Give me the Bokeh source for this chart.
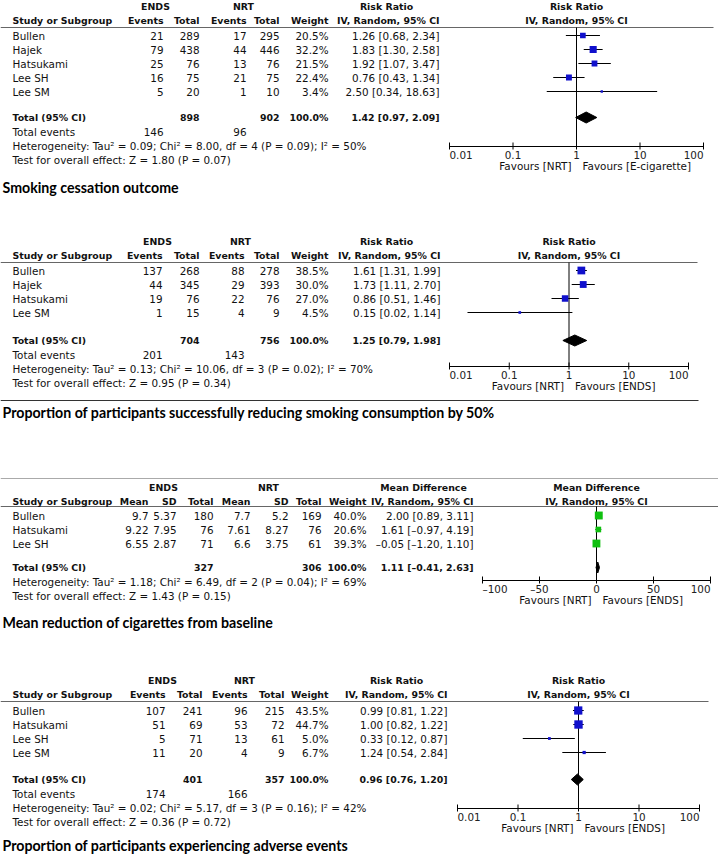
import numpy as np
from collections import defaultdict
from bokeh.plotting import figure
from bokeh.models import Range1d, LogScale, LinearScale, ColumnDataSource
from bokeh.core.properties import value
from bokeh.embed import file_html
from bokeh.resources import INLINE

# ---------------- data ----------------
# Panel 1 : smoking cessation outcome (risk ratio)
p1_studies = ["Bullen", "Hajek", "Hatsukami", "Lee SH", "Lee SM"]
p1_ends_events = [21, 79, 25, 16, 5]
p1_ends_total = [289, 438, 76, 75, 20]
p1_nrt_events = [17, 44, 13, 21, 1]
p1_nrt_total = [295, 446, 76, 75, 10]
p1_weight = [20.5, 32.2, 21.5, 22.4, 3.4]
p1_rr = [1.26, 1.83, 1.92, 0.76, 2.50]
p1_lo = [0.68, 1.30, 1.07, 0.43, 0.34]
p1_hi = [2.34, 2.58, 3.47, 1.34, 18.63]
p1_total_n = [898, 902]
p1_total_events = [146, 96]
p1_pooled = [1.42, 0.97, 2.09]
p1_het = "Heterogeneity: Tau\u00b2 = 0.09; Chi\u00b2 = 8.00, df = 4 (P = 0.09); I\u00b2 = 50%"
p1_test = "Test for overall effect: Z = 1.80 (P = 0.07)"
p1_title = "Smoking cessation outcome"
p1_fav = ["Favours [NRT]", "Favours [E-cigarette]"]

# Panel 2 : reduction of consumption by 50% (risk ratio)
p2_studies = ["Bullen", "Hajek", "Hatsukami", "Lee SM"]
p2_ends_events = [137, 44, 19, 1]
p2_ends_total = [268, 345, 76, 15]
p2_nrt_events = [88, 29, 22, 4]
p2_nrt_total = [278, 393, 76, 9]
p2_weight = [38.5, 30.0, 27.0, 4.5]
p2_rr = [1.61, 1.73, 0.86, 0.15]
p2_lo = [1.31, 1.11, 0.51, 0.02]
p2_hi = [1.99, 2.70, 1.46, 1.14]
p2_total_n = [704, 756]
p2_total_events = [201, 143]
p2_pooled = [1.25, 0.79, 1.98]
p2_het = "Heterogeneity: Tau\u00b2 = 0.13; Chi\u00b2 = 10.06, df = 3 (P = 0.02); I\u00b2 = 70%"
p2_test = "Test for overall effect: Z = 0.95 (P = 0.34)"
p2_title = "Proportion of participants successfully reducing smoking consumption by 50%"
p2_fav = ["Favours [NRT]", "Favours [ENDS]"]

# Panel 3 : mean reduction of cigarettes (mean difference)
p3_studies = ["Bullen", "Hatsukami", "Lee SH"]
p3_ends_mean = ["9.7", "9.22", "6.55"]
p3_ends_sd = ["5.37", "7.95", "2.87"]
p3_ends_total = [180, 76, 71]
p3_nrt_mean = ["7.7", "7.61", "6.6"]
p3_nrt_sd = ["5.2", "8.27", "3.75"]
p3_nrt_total = [169, 76, 61]
p3_weight = [40.0, 20.6, 39.3]
p3_md = [2.00, 1.61, -0.05]
p3_lo = [0.89, -0.97, -1.20]
p3_hi = [3.11, 4.19, 1.10]
p3_total_n = [327, 306]
p3_pooled = [1.11, -0.41, 2.63]
p3_het = "Heterogeneity: Tau\u00b2 = 1.18; Chi\u00b2 = 6.49, df = 2 (P = 0.04); I\u00b2 = 69%"
p3_test = "Test for overall effect: Z = 1.43 (P = 0.15)"
p3_title = "Mean reduction of cigarettes from baseline"
p3_fav = ["Favours [NRT]", "Favours [ENDS]"]

# Panel 4 : adverse events (risk ratio)
p4_studies = ["Bullen", "Hatsukami", "Lee SH", "Lee SM"]
p4_ends_events = [107, 51, 5, 11]
p4_ends_total = [241, 69, 71, 20]
p4_nrt_events = [96, 53, 13, 4]
p4_nrt_total = [215, 72, 61, 9]
p4_weight = [43.5, 44.7, 5.0, 6.7]
p4_rr = [0.99, 1.00, 0.33, 1.24]
p4_lo = [0.81, 0.82, 0.12, 0.54]
p4_hi = [1.22, 1.22, 0.87, 2.84]
p4_total_n = [401, 357]
p4_total_events = [174, 166]
p4_pooled = [0.96, 0.76, 1.20]
p4_het = "Heterogeneity: Tau\u00b2 = 0.02; Chi\u00b2 = 5.17, df = 3 (P = 0.16); I\u00b2 = 42%"
p4_test = "Test for overall effect: Z = 0.36 (P = 0.72)"
p4_title = "Proportion of participants experiencing adverse events"
p4_fav = ["Favours [NRT]", "Favours [ENDS]"]

rr_ticks = [0.01, 0.1, 1, 10, 100]
rr_tick_labels = ["0.01", "0.1", "1", "10", "100"]
md_ticks = [-100, -50, 0, 50, 100]
md_tick_labels = ["\u2013100", "\u201350", "0", "50", "100"]

# ---------------- styling ----------------
FONT = "DejaVu Sans"
TFONT = "Lato"
FS = "10.4px"
FSB = "9.4px"
TS = "14.2px"
TXT = "#111111"
BLUE = "#1010cc"
GREEN = "#10c010"

W, H = 718, 855
X0, X1 = 0.0, 718.0
p = figure(width=W, height=H, x_range=Range1d(X0, X1), y_range=Range1d(855, 0),
           output_backend="svg", toolbar_location=None, x_axis_type=None, y_axis_type=None,
           min_border=0, outline_line_color=None, background_fill_color="white")

extra_ranges, extra_scales = {}, {}

def add_range(name, log, v0, v1, a, b):
    if log:
        l0, l1 = np.log10(v0), np.log10(v1)
        k = (l1 - l0) / (b - a)
        extra_ranges[name] = Range1d(10 ** (l0 - (a - X0) * k), 10 ** (l1 + (X1 - b) * k))
        extra_scales[name] = LogScale()
    else:
        k = (v1 - v0) / (b - a)
        extra_ranges[name] = Range1d(v0 - (a - X0) * k, v1 + (X1 - b) * k)
        extra_scales[name] = LinearScale()

batches = defaultdict(lambda: dict(x=[], y=[], text=[]))

def put(x, y, s, align="left", bold=False, size=None, font=FONT, color=TXT, rng="default", dx=0):
    if size is None:
        size = FSB if bold else FS
    b = batches[(align, bold, size, font, color, rng, dx)]
    b["x"].append(x); b["y"].append(y); b["text"].append(str(s))

def hline(x0, x1, y, color="#666666", width=1):
    p.segment(x0=[x0], x1=[x1], y0=[y], y1=[y], line_color=color, line_width=width)

def fmt_ci(e, l, h):
    return f"{e:.2f} [{l:.2f}, {h:.2f}]".replace("-", "\u2013")

def forest(rng, est, lo, hi, weight, pooled, ys, ytot, yhead, yaxis, null, ticks, labels, fav, color):
    p.segment(x0=[null], x1=[null], y0=[yhead], y1=[yaxis], line_color="black", line_width=1, x_range_name=rng)
    p.segment(x0=lo, x1=hi, y0=ys, y1=ys, line_color="black", line_width=1, x_range_name=rng)
    sizes = [1.25 * np.sqrt(w) for w in weight]
    p.scatter(x=est, y=ys, size=sizes, marker="square", fill_color=color, line_color=None, x_range_name=rng)
    e, l, h = pooled
    p.patch(x=[l, e, h, e], y=[ytot, ytot - 5.5, ytot, ytot + 5.5], fill_color="black", line_color="black", x_range_name=rng)
    p.segment(x0=[ticks[0]], x1=[ticks[-1]], y0=[yaxis], y1=[yaxis], line_color="black", line_width=1, x_range_name=rng)
    p.segment(x0=ticks, x1=ticks, y0=[yaxis - 4] * len(ticks), y1=[yaxis + 3] * len(ticks), line_color="black", line_width=1, x_range_name=rng)
    n = len(ticks)
    for i, (t, lab) in enumerate(zip(ticks, labels)):
        al = "left" if i == 0 else ("right" if i == n - 1 else "center")
        put(t, yaxis + 8, lab, align=al, rng=rng, color="#222222")
    put(null, yaxis + 19, fav[0], align="right", rng=rng, dx=-5)
    put(null, yaxis + 19, fav[1], align="left", rng=rng, dx=6)

def rr_panel(rng, studies, ee, et, ne, nt, w, est, lo, hi, tot_n, tot_ev, pooled, het, test, fav, title, L):
    cx = L["cols"]  # right edges: events, total, events, total, weight, ci
    y1, y2 = L["h1"], L["h2"]
    put(L["ends_c"], y1, "ENDS", "center", True)
    put(L["nrt_c"], y1, "NRT", "center", True)
    put(L["rr_c"], y1, "Risk Ratio", "center", True)
    put(1, y1, "Risk Ratio", "center", True, rng=rng)
    put(12, y2, "Study or Subgroup", "left", True)
    for lab, x in zip(["Events", "Total", "Events", "Total", "Weight", "IV, Random, 95% CI"], cx):
        put(x, y2, lab, "right", True)
    put(1, y2, "IV, Random, 95% CI", "center", True, rng=rng)
    hline(0, L["line_end"], L["hline"])
    ys = [L["row0"] + 14 * i for i in range(len(studies))]
    for i, s in enumerate(studies):
        put(12, ys[i], s)
        vals = [ee[i], et[i], ne[i], nt[i], f"{w[i]:.1f}%", fmt_ci(est[i], lo[i], hi[i])]
        for v, x in zip(vals, cx):
            put(x, ys[i], v, "right")
    put(12, L["total"], "Total (95% CI)", "left", True)
    put(cx[1], L["total"], tot_n[0], "right", True)
    put(cx[3], L["total"], tot_n[1], "right", True)
    put(cx[4], L["total"], "100.0%", "right", True)
    put(cx[5], L["total"], fmt_ci(*pooled), "right", True)
    put(12, L["tev"], "Total events")
    put(cx[0], L["tev"], tot_ev[0], "right")
    put(cx[2], L["tev"], tot_ev[1], "right")
    put(12, L["het"], het)
    put(12, L["test"], test)
    put(2, L["title"], title, "left", True, size=TS, font=TFONT, color="black")
    forest(rng, est, lo, hi, w, pooled, ys, L["total"], L["hline"], L["axis"], 1,
           rr_ticks, rr_tick_labels, fav, BLUE)

# ---------------- panel 1 ----------------
add_range("f1", True, 0.01, 100, 449, 703)
rr_panel("f1", p1_studies, p1_ends_events, p1_ends_total, p1_nrt_events, p1_nrt_total, p1_weight,
         p1_rr, p1_lo, p1_hi, p1_total_n, p1_total_events, p1_pooled, p1_het, p1_test, p1_fav, p1_title,
         dict(cols=[163, 199, 246, 279, 328, 439], h1=6, h2=20, hline=27, line_end=713, row0=35,
              total=117, tev=131, het=145, test=159, axis=146, title=187,
              ends_c=155, nrt_c=243, rr_c=386))

# ---------------- panel 2 ----------------
add_range("f2", True, 0.01, 100, 449, 688)
rr_panel("f2", p2_studies, p2_ends_events, p2_ends_total, p2_nrt_events, p2_nrt_total, p2_weight,
         p2_rr, p2_lo, p2_hi, p2_total_n, p2_total_events, p2_pooled, p2_het, p2_test, p2_fav, p2_title,
         dict(cols=[162, 199, 244, 279, 328, 440], h1=241, h2=255, hline=262, line_end=697, row0=270,
              total=340, tev=354, het=368, test=382, axis=366, title=412,
              ends_c=157, nrt_c=240, rr_c=386))
hline(0, 698, 400, color="#333333")

# ---------------- panel 3 ----------------
add_range("f3", False, -100, 100, 482, 710)
hline(0, 718, 478, color="#aaaaaa")
cx3 = [148, 176, 213, 250, 288, 321, 366, 473]
put(163, 487, "ENDS", "center", True)
put(268, 487, "NRT", "center", True)
put(423, 487, "Mean Difference", "center", True)
put(0, 487, "Mean Difference", "center", True, rng="f3")
put(12, 501, "Study or Subgroup", "left", True)
for lab, x in zip(["Mean", "SD", "Total", "Mean", "SD", "Total", "Weight", "IV, Random, 95% CI"], cx3):
    put(x, 501, lab, "right", True)
put(0, 501, "IV, Random, 95% CI", "center", True, rng="f3")
hline(0, 718, 506)
ys3 = [515 + 14 * i for i in range(len(p3_studies))]
for i, s in enumerate(p3_studies):
    put(12, ys3[i], s)
    vals = [p3_ends_mean[i], p3_ends_sd[i], p3_ends_total[i], p3_nrt_mean[i], p3_nrt_sd[i],
            p3_nrt_total[i], f"{p3_weight[i]:.1f}%", fmt_ci(p3_md[i], p3_lo[i], p3_hi[i])]
    for v, x in zip(vals, cx3):
        put(x, ys3[i], v, "right")
put(12, 567, "Total (95% CI)", "left", True)
put(cx3[2], 567, p3_total_n[0], "right", True)
put(cx3[5], 567, p3_total_n[1], "right", True)
put(cx3[6], 567, "100.0%", "right", True)
put(cx3[7], 567, fmt_ci(*p3_pooled), "right", True)
put(12, 581, p3_het)
put(12, 595, p3_test)
put(2, 622, p3_title, "left", True, size=TS, font=TFONT, color="black")
forest("f3", p3_md, p3_lo, p3_hi, p3_weight, p3_pooled, ys3, 567, 506, 580, 0,
       md_ticks, md_tick_labels, p3_fav, GREEN)

# ---------------- panel 4 ----------------
add_range("f4", True, 0.01, 100, 457, 699)
rr_panel("f4", p4_studies, p4_ends_events, p4_ends_total, p4_nrt_events, p4_nrt_total, p4_weight,
         p4_rr, p4_lo, p4_hi, p4_total_n, p4_total_events, p4_pooled, p4_het, p4_test, p4_fav, p4_title,
         dict(cols=[165, 202, 247, 284, 328, 447], h1=680, h2=694, hline=701, line_end=708, row0=710,
              total=779, tev=793, het=807, test=821, axis=808, title=845,
              ends_c=162, nrt_c=244, rr_c=396))

p.extra_x_ranges = extra_ranges
p.extra_x_scales = extra_scales

for (align, bold, size, font, color, rng, dx), b in batches.items():
    p.text(x="x", y="y", text="text", source=ColumnDataSource(b), text_align=align,
           text_baseline="middle", text_font=value(font), text_font_size=size,
           text_font_style="bold" if bold else "normal", text_color=color,
           x_offset=dx, x_range_name=rng)

open("out.html", "w").write(file_html(p, INLINE))
